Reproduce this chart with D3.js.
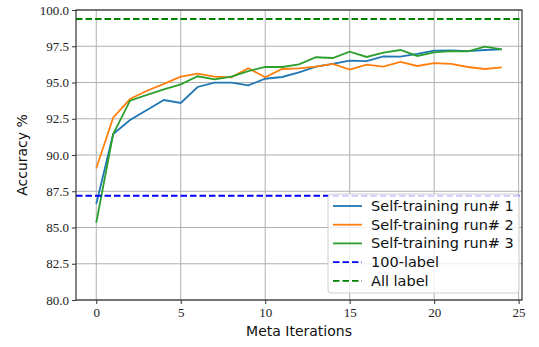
<!DOCTYPE html>
<html>
<head>
<meta charset="utf-8">
<script src="https://cdn.jsdelivr.net/npm/d3@7"></script>
<style>
  html, body { margin: 0; padding: 0; background: #fff; }
  svg { display: block; }
  .tick text { font-family: 'Liberation Serif', 'DejaVu Serif', serif; font-size: 13px; fill: #222; }
  .lbl { font-family: 'DejaVu Sans', sans-serif; font-size: 14px; fill: #111; }
  .leg { font-family: 'DejaVu Sans', sans-serif; font-size: 14.5px; fill: #111; }
</style>
</head>
<body>
<div id="chart"></div>
<script>
const iterations = d3.range(0, 25);
const run1 = [86.62, 91.45, 92.41, 93.1, 93.79, 93.59, 94.69, 94.99, 94.99, 94.8, 95.26, 95.38, 95.7, 96.09, 96.28, 96.51, 96.48, 96.8, 96.78, 96.97, 97.2, 97.22, 97.17, 97.24, 97.29];
const run2 = [89.08, 92.57, 93.86, 94.43, 94.9, 95.4, 95.61, 95.4, 95.36, 95.98, 95.36, 95.93, 95.98, 96.09, 96.28, 95.89, 96.23, 96.09, 96.42, 96.14, 96.34, 96.28, 96.07, 95.93, 96.05];
const run3 = [85.33, 91.45, 93.75, 94.14, 94.53, 94.87, 95.43, 95.22, 95.4, 95.79, 96.07, 96.07, 96.25, 96.74, 96.69, 97.13, 96.76, 97.06, 97.24, 96.83, 97.08, 97.17, 97.15, 97.47, 97.29];
const label100 = 87.19;
const labelAll = 99.38;
const xTicks = [0, 5, 10, 15, 20, 25];
const yTicks = [80, 82.5, 85, 87.5, 90, 92.5, 95, 97.5, 100];

const series = [
    { name: 'Self-training run# 1', values: run1, color: '#1f77b4' },
    { name: 'Self-training run# 2', values: run2, color: '#ff7f0e' },
    { name: 'Self-training run# 3', values: run3, color: '#2ca02c' }
];
const refs = [
    { name: '100-label', value: label100, color: '#0000ff' },
    { name: 'All label', value: labelAll, color: '#008000' }
];

const width = 539, height = 347;
const margin = { top: 10, right: 17, bottom: 47, left: 76 };
const iw = width - margin.left - margin.right;
const ih = height - margin.top - margin.bottom;

const x = d3.scaleLinear().domain([-1.2, 25.2]).range([0, iw]);
const y = d3.scaleLinear().domain([80, 100]).range([ih, 0]);

const svg = d3.select('#chart').append('svg')
    .attr('width', width).attr('height', height);
const g = svg.append('g').attr('transform', `translate(${margin.left},${margin.top})`);

// grid
g.append('g').selectAll('line').data(xTicks).join('line')
    .attr('x1', d => x(d)).attr('x2', d => x(d)).attr('y1', 0).attr('y2', ih)
    .attr('stroke', '#b0b0b0').attr('stroke-width', 1);
g.append('g').selectAll('line').data(yTicks).join('line')
    .attr('y1', d => y(d)).attr('y2', d => y(d)).attr('x1', 0).attr('x2', iw)
    .attr('stroke', '#b0b0b0').attr('stroke-width', 1);

const line = d3.line().x((d, i) => x(iterations[i])).y(d => y(d));

g.selectAll('.series').data(series).join('path')
    .attr('class', 'series')
    .attr('d', d => line(d.values))
    .attr('fill', 'none').attr('stroke', d => d.color).attr('stroke-width', 1.8);

g.selectAll('.ref').data(refs).join('line')
    .attr('class', 'ref')
    .attr('x1', 0).attr('x2', iw)
    .attr('y1', d => y(d.value)).attr('y2', d => y(d.value))
    .attr('stroke', d => d.color).attr('stroke-width', 1.8).attr('stroke-dasharray', '6.5,3');

// axes
const xAxis = g.append('g').attr('transform', `translate(0,${ih})`)
    .call(d3.axisBottom(x).tickValues(xTicks).tickFormat(d3.format('d')).tickSize(4).tickPadding(4));
const yAxis = g.append('g')
    .call(d3.axisLeft(y).tickValues(yTicks).tickFormat(d3.format('.1f')).tickSize(4).tickPadding(3));
[xAxis, yAxis].forEach(a => {
    a.select('.domain').remove();
    a.selectAll('.tick line').attr('stroke', '#333');
});

g.append('rect').attr('width', iw).attr('height', ih)
    .attr('fill', 'none').attr('stroke', '#333').attr('stroke-width', 1.2);

svg.append('text').attr('class', 'lbl')
    .attr('x', margin.left + iw / 2).attr('y', 336)
    .attr('text-anchor', 'middle').text('Meta Iterations');
svg.append('text').attr('class', 'lbl')
    .attr('transform', `translate(27,${margin.top + ih / 2}) rotate(-90)`)
    .attr('text-anchor', 'middle').text('Accuracy %');

// legend
const items = series.map(s => ({ name: s.name, color: s.color, dash: null }))
    .concat(refs.map(r => ({ name: r.name, color: r.color, dash: '6.5,3' })));
const leg = svg.append('g').attr('transform', 'translate(328,194)');
leg.append('rect').attr('width', 191).attr('height', 99).attr('rx', 3)
    .attr('fill', 'rgba(255,255,255,0.8)').attr('stroke', '#d0d0d0');
const row = leg.selectAll('.row').data(items).join('g')
    .attr('transform', (d, i) => `translate(0,${12 + i * 18.7})`);
row.append('line').attr('x1', 5).attr('x2', 34)
    .attr('stroke', d => d.color).attr('stroke-width', 1.8)
    .attr('stroke-dasharray', d => d.dash);
row.append('text').attr('class', 'leg').attr('x', 43).attr('dy', '0.35em').text(d => d.name);
</script>
</body>
</html>
